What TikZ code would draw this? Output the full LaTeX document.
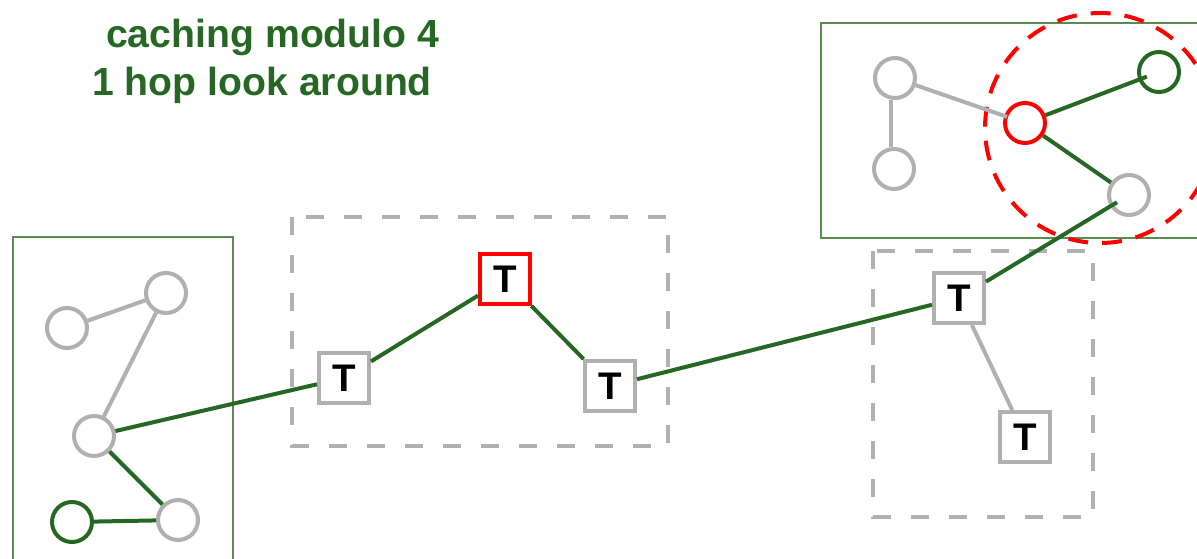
\documentclass[tikz,border=0pt]{standalone}
\usepackage{fontspec}
\setmainfont{Liberation Sans}
\definecolor{leaf}{RGB}{38,104,35}
\definecolor{frame}{RGB}{90,140,80}
\definecolor{ash}{RGB}{176,176,176}
\definecolor{alarm}{RGB}{255,0,0}
\tikzset{
  vtx/.style={circle, draw=ash, line width=4pt, minimum size=40pt, inner sep=0pt},
  vtxgreen/.style={vtx, draw=leaf},
  vtxred/.style={vtx, draw=alarm},
  tnode/.style={rectangle, draw=ash, line width=4pt, minimum size=50pt, inner sep=0pt,
    font=\fontsize{38.5}{38.5}\selectfont\bfseries, fill=white},
  tnodered/.style={tnode, draw=alarm},
  link/.style={line width=4pt, draw=ash},
  linkgreen/.style={line width=4pt, draw=leaf},
  region/.style={draw=frame, line width=1.2pt},
  cluster/.style={draw=ash, line width=4pt, dash pattern=on 18pt off 20pt},
  reach/.style={draw=alarm, line width=4pt, dash pattern=on 20pt off 14pt},
  heading/.style={anchor=base west, inner sep=0pt, text=leaf,
    font=\fontsize{39.2}{46}\selectfont\bfseries}
}
\begin{document}
\begin{tikzpicture}[x=1pt, y=-1pt]
\useasboundingbox (0,0) rectangle (1197,559);
\clip (0,0) rectangle (1197,559);

% headline
\node[heading] (title1) at (106,48) {caching modulo 4};
\node[heading] (title2) at (92,96) {1 hop look around};

% solid regions
\draw[region] (13,600) -- (13,237) -- (233,237) -- (233,600);
\draw[region] (821,23) rectangle (1230,238);

% dashed clusters
\draw[cluster] (292,217) rectangle (668,446);
\draw[cluster] (873,251) rectangle (1093,517);

% left region nodes
\node[vtx] (a1) at (67,328) {};
\node[vtx] (a2) at (166,293) {};
\node[vtx] (a3) at (94,436) {};
\node[vtxgreen] (a4) at (72,522) {};
\node[vtx] (a5) at (178,520) {};

% right region nodes
\node[vtx] (b1) at (895,78) {};
\node[vtx] (b2) at (894,169) {};
\node[vtxred] (b3) at (1025,123) {};
\node[vtxgreen] (b4) at (1159,72) {};
\node[vtx] (b5) at (1129,195) {};

% one hop neighbourhood
\coordinate (hub) at (1100,128);
\draw[reach] (hub) circle (115pt);

% tree nodes
\node[tnode] (t1) at (344,378) {T};
\node[tnodered] (t2) at (505,279) {T};
\node[tnode] (t3) at (610,386) {T};
\node[tnode] (t4) at (959,298) {T};
\node[tnode] (t5) at (1025,437) {T};

% edges
\draw[link] (a1) -- (a2);
\draw[link] (a2) -- (a3);
\draw[linkgreen] (a3) -- (a5);
\draw[linkgreen, shorten <=-4pt] (a4) -- (a5);
\draw[linkgreen] (a3) -- (t1);
\draw[linkgreen] (t1) -- (t2);
\draw[linkgreen] (t2) -- (t3);
\draw[linkgreen] (t3) -- (t4);
\draw[link] (t4) -- (t5);
\draw[linkgreen, shorten >=-8pt] (t4) -- (b5);
\draw[link] ([xshift=-4pt]b1.south) -- ([xshift=-3pt]b2.north);
\draw[link, shorten >=-3pt] (b1) -- (b3);
\draw[linkgreen, shorten >=-9pt] (b3) -- (b4);
\draw[linkgreen] (b3) -- (b5);
\end{tikzpicture}
\end{document}
